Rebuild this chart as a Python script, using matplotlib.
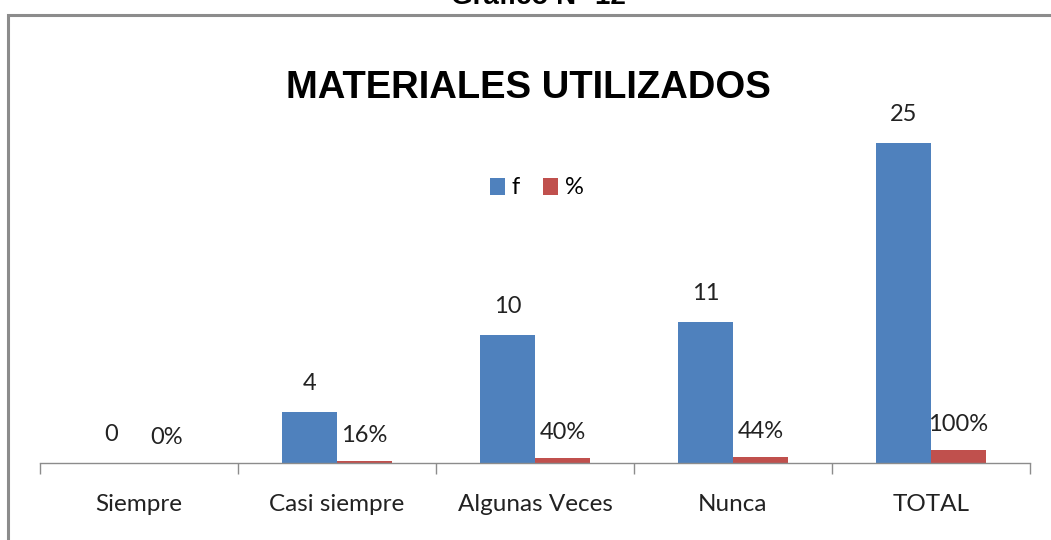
import matplotlib
matplotlib.use("Agg")
import matplotlib.pyplot as plt
import numpy as np
from matplotlib.patches import Rectangle

categories = ["Siempre", "Casi siempre", "Algunas Veces", "Nunca", "TOTAL"]
f_values = [0, 4, 10, 11, 25]
pct_values = [0.0, 0.16, 0.40, 0.44, 1.00]
f_labels = ["0", "4", "10", "11", "25"]
pct_labels = ["0%", "16%", "40%", "44%", "100%"]

blue = "#4F81BD"
red = "#C0504D"

plt.rcParams["font.family"] = ["Lato", "DejaVu Sans"]

W, H = 1051, 540
fig = plt.figure(figsize=(W / 100, H / 100), dpi=100)

# outer frame
fig.patches.append(Rectangle((8 / W, 0 - 0.05), 1.2, 1 - 15 / H + 0.05, transform=fig.transFigure,
                             fill=False, edgecolor="#8c8c8c", linewidth=2.2, zorder=0))

fig.text(0.512, 1 - 4 / H, "Gráfico N° 12", ha="center", va="baseline",
         fontsize=20, fontweight="bold", family=["Liberation Sans", "DejaVu Sans"])

ax = fig.add_axes([40 / W, (H - 463) / H, (1030 - 40) / W, (463 - 60) / H])
x = np.arange(len(categories))
bw = 0.278
ax.bar(x - bw / 2, f_values, bw, color=blue, label="f", zorder=2)
ax.bar(x + bw / 2, pct_values, bw, color=red, label="%", zorder=2)

ax.set_xlim(-0.5, len(categories) - 0.5)
ax.set_ylim(0, (463 - 60) / 12.8)

for xi, v, lab in zip(x, f_values, f_labels):
    ax.annotate(lab, (xi - bw / 2, v), xytext=(0, 13), textcoords="offset points",
                ha="center", va="bottom", fontsize=17, color="#222222")
for xi, v, lab in zip(x, pct_values, pct_labels):
    ax.annotate(lab, (xi + bw / 2, v), xytext=(0, 11), textcoords="offset points",
                ha="center", va="bottom", fontsize=17, color="#222222")

for s in ["top", "right", "left"]:
    ax.spines[s].set_visible(False)
ax.spines["bottom"].set_color("#8c8c8c")
ax.spines["bottom"].set_linewidth(1.0)
ax.set_yticks([])
ax.set_xticks(x)
ax.set_xticklabels(categories, fontsize=17.5, color="#222222")
ax.tick_params(axis="x", which="major", length=0, pad=22)
ax.set_xticks(np.arange(-0.5, len(categories)), minor=True)
ax.tick_params(axis="x", which="minor", length=8, color="#8c8c8c", width=1.0)

fig.text(528 / W, 1 - 88 / H, "MATERIALES UTILIZADOS", ha="center", va="center",
         fontsize=27.5, fontweight="bold",
         family=["Liberation Sans", "DejaVu Sans"],
         color="#000000")

leg = ax.legend(loc="center", bbox_to_anchor=(537 / W, 1 - 188 / H),
                bbox_transform=fig.transFigure, ncol=2, frameon=False, fontsize=17,
                handlelength=0.6, handleheight=0.75, handletextpad=0.3, columnspacing=1.0)

fig.savefig("out.png", dpi=100)
